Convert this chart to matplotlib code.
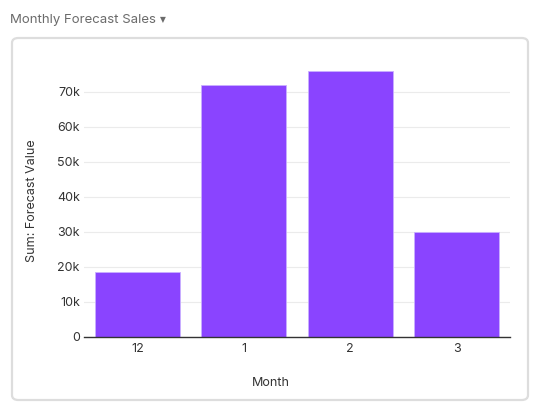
import matplotlib
matplotlib.use("Agg")
import matplotlib.pyplot as plt
from matplotlib.patches import FancyBboxPatch
from matplotlib.ticker import FuncFormatter

months = ["12", "1", "2", "3"]
forecast = [18300, 71800, 75900, 29900]
yticks = [0, 10000, 20000, 30000, 40000, 50000, 60000, 70000]

plt.rcParams['font.family'] = ['Inter', 'DejaVu Sans']

fig = plt.figure(figsize=(5.35, 4.11), dpi=100)
W, H = 535, 411

# card border
card = FancyBboxPatch((12 / W, 1 - 400 / H), 516 / W, 362 / H,
                      boxstyle="round,pad=0,rounding_size=0.012",
                      transform=fig.transFigure, fill=False,
                      edgecolor='#dddddd', linewidth=1.6)
fig.patches.append(card)

fig.text(10 / W, 1 - 20 / H, "Monthly Forecast Sales", color='#6b6b6b',
         fontsize=9.5, va='center', ha='left')
fig.text(160 / W, 1 - 20 / H, "\u25bc", color='#6b6b6b',
         fontsize=5.5, va='center', ha='left', family=['DejaVu Sans'])

ax = fig.add_axes([84 / W, 1 - 336.5 / H, 426 / W, 273 / H])
x = range(len(months))
ax.bar(x, forecast, width=0.8, color='#8a44ff', edgecolor='#c9b0ff',
       linewidth=0.6, zorder=3)
ax.set_xlim(-0.5, len(months) - 0.5)
ax.set_ylim(0, 78000)
ax.set_xticks(list(x))
ax.set_xticklabels(months)
ax.set_yticks(yticks)
ax.yaxis.set_major_formatter(FuncFormatter(lambda v, p: "0" if v == 0 else f"{int(v / 1000)}k"))
ax.grid(axis='y', color='#ebebeb', linewidth=0.8, zorder=0)
for s in ['top', 'right', 'left']:
    ax.spines[s].set_visible(False)
ax.spines['bottom'].set_color('#333333')
ax.spines['bottom'].set_linewidth(1.0)
ax.spines['bottom'].set_zorder(4)
ax.tick_params(axis='both', length=0, labelsize=9, colors='#333333')
ax.tick_params(axis='y', pad=3)
ax.tick_params(axis='x', pad=5)

fig.text(271 / W, 1 - 383 / H, "Month", ha='center', va='center',
         fontsize=9, color='#333333')
fig.text(32 / W, 1 - 201 / H, "Sum: Forecast Value", ha='center', va='center',
         rotation=90, fontsize=9, color='#333333')

fig.savefig("out.png", dpi=100)
